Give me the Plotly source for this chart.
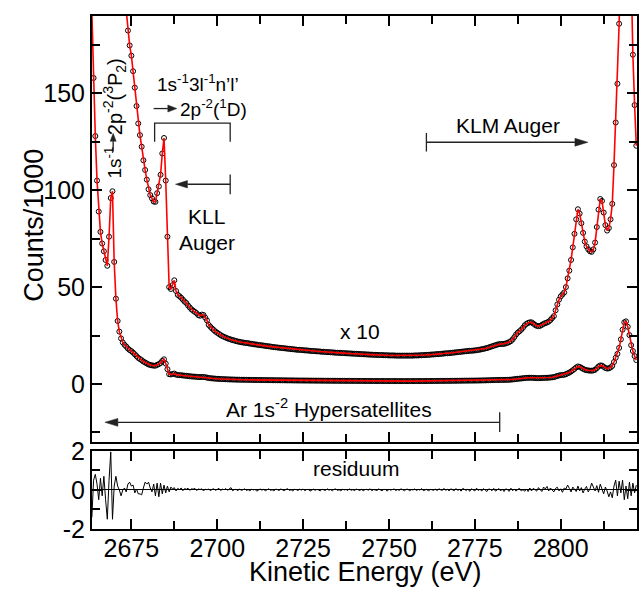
import numpy as np
import plotly.graph_objects as go

# ---------------- data ----------------
E_START = 2663.5   # eV, first channel
E_STEP = 0.5       # eV per channel

# measured counts / 1000 on the energy grid
counts_k = [
    192.0, 158.0, 128.0, 105.0, 89.0, 78.5, 72.5, 68.5, 64.0, 61.0,
    76.0, 96.0, 99.5, 63.0, 44.0, 32.5, 27.0, 23.5, 21.4, 20.2,
    19.3,
    18.25, 17.48, 16.95, 16.15, 15.30, 14.35, 13.45, 12.85, 12.25, 11.55,
    11.05, 10.55, 10.05, 9.75, 9.58, 9.42, 9.40, 9.85, 10.20, 10.80,
    11.90, 12.70, 10.50, 7.60, 5.00, 4.90, 5.10, 5.35, 4.80, 4.60,
    4.53, 4.45, 4.35, 4.25, 4.18, 4.05, 3.95, 3.85, 3.78, 3.72,
    3.65, 3.55, 3.52, 3.58, 3.56, 3.42, 3.28, 3.05, 2.95, 2.86,
    2.78, 2.70, 2.64, 2.58, 2.52, 2.47, 2.43, 2.39, 2.35, 2.32,
    2.29, 2.26, 2.24, 2.21, 2.19, 2.17, 2.15,
    2.14, 2.12, 2.11, 2.10, 2.08, 2.07, 2.05, 2.04, 2.03, 2.01,
    2.00, 1.99, 1.98, 1.96, 1.95, 1.94, 1.93, 1.91, 1.90, 1.89,
    1.88, 1.87, 1.86, 1.85, 1.84, 1.83, 1.82, 1.81, 1.80, 1.79,
    1.78, 1.77, 1.76, 1.76, 1.75, 1.74, 1.73, 1.73, 1.72, 1.71,
    1.70, 1.70, 1.69, 1.68, 1.68, 1.67, 1.66, 1.66, 1.65, 1.64,
    1.64, 1.63, 1.63, 1.62, 1.61, 1.61, 1.60, 1.60, 1.59, 1.59,
    1.58, 1.58, 1.57, 1.57, 1.56, 1.56, 1.55, 1.55, 1.54, 1.54,
    1.53, 1.53, 1.52, 1.52, 1.51, 1.51, 1.50, 1.50, 1.50, 1.49,
    1.49, 1.49, 1.48, 1.48, 1.48, 1.47, 1.47, 1.47, 1.47, 1.46,
    1.46, 1.46, 1.46, 1.46, 1.46, 1.46, 1.46, 1.46, 1.46, 1.46,
    1.47, 1.47, 1.47, 1.48, 1.48, 1.49, 1.49, 1.50, 1.50, 1.51,
    1.52, 1.52, 1.53, 1.54, 1.54, 1.55, 1.56, 1.57, 1.58, 1.58,
    1.59, 1.60, 1.61, 1.62, 1.63, 1.64, 1.65, 1.66, 1.67, 1.68,
    1.69, 1.70, 1.71, 1.71, 1.72, 1.73, 1.74, 1.76, 1.77, 1.79,
    1.81, 1.83, 1.85, 1.88, 1.91, 1.94, 1.97, 2.00, 2.03, 2.05,
    2.06, 2.06, 2.07, 2.09, 2.12, 2.16, 2.21,
    2.30, 2.42, 2.55, 2.65, 2.72, 2.80, 2.90, 3.02, 3.10, 3.15,
    3.18, 3.18, 3.12, 3.05, 3.00, 2.98, 3.00, 3.05, 3.10, 3.14,
    3.17, 3.22, 3.30, 3.40, 3.50, 3.80, 4.10, 4.35, 4.52, 4.62,
    4.72, 5.00, 5.45, 5.85, 6.40, 7.05, 7.75, 8.50, 9.02, 8.80,
    8.30, 7.80, 7.35, 7.10, 6.95, 6.85, 6.82, 6.95, 7.30, 8.10,
    9.00, 9.55, 9.45, 8.85, 8.20, 7.92, 8.05, 8.50, 9.30, 11.30,
    13.50, 15.50, 18.60, 23.00, 28.00, 31.80, 32.30, 29.50, 25.20, 20.00,
    17.00, 14.40, 12.30,
]

# fit residuum on the same grid
residuum = [
    -1.4, 0.5, 0.8, 0.3, -0.5, 0.6, -0.3, 0.7, -0.5, -1.5,
    0.5, 1.95, -1.5, 0.2, 0.7, 0.2, 0.0, -0.3, 0.0, 0.1,
    -0.1, 0.3, 0.4, 0.2, 0.25, -0.15, 0.05, -0.2, -0.2, -0.25,
    0.1, 0.4, 0.3, 0.4, 0.1, -0.1, 0.3, -0.3, 0.35, -0.35,
    0.35, -0.2, 0.25, -0.15, 0.2, -0.1, 0.15, 0.05, 0.12, -0.05,
    0.08, 0.02, 0.10, -0.04, 0.07, 0.03, 0.09, -0.02, 0.06, 0.04,
    0.08, -0.03, 0.05, 0.02, 0.06, -0.05, 0.04, 0.01, 0.05, -0.04,
    0.03, 0.06, -0.02, 0.02, 0.08, -0.03, 0.04, 0.01, 0.07, -0.02,
    0.03, 0.12, -0.04, 0.02,
    0.03, -0.04, 0.05, -0.02, 0.01, 0.06, -0.03, 0.02, -0.05, 0.04,
    0.00, 0.03, -0.06, 0.02, 0.05, -0.01, 0.03, -0.04, 0.02, 0.06,
    -0.02, 0.01, -0.05, 0.04, 0.02, -0.03, 0.05, 0.00, -0.04, 0.03,
    0.06, -0.02, 0.01, -0.05, 0.03, 0.02, -0.03, 0.04, -0.01, 0.05,
    -0.04, 0.02, 0.03, -0.06, 0.01, 0.04, -0.02, 0.03, 0.00, -0.05,
    0.04, 0.02, -0.03, 0.06, -0.01, 0.02, -0.04, 0.03, 0.05, -0.02,
    0.01, -0.05, 0.04, 0.00, 0.03, -0.03, 0.06, -0.02, 0.02, -0.04,
    0.05, 0.01, -0.03, 0.04, -0.05, 0.02, 0.03, -0.01, 0.06, -0.04,
    0.02, 0.00, -0.03, 0.05, 0.01, -0.04, 0.03, 0.02, -0.06, 0.04,
    -0.01, 0.03, 0.05, -0.03, 0.02, -0.02, 0.06, 0.01, -0.04, 0.03,
    0.04, -0.05, 0.02, 0.00, 0.05, -0.03, 0.03, -0.01, 0.07, -0.04,
    0.02, 0.04, -0.06, 0.03, 0.01, -0.02, 0.05, -0.04, 0.06, 0.00,
    -0.03, 0.08, -0.02, 0.04, -0.05, 0.06, 0.01, -0.04, 0.07, -0.02,
    0.03, -0.06, 0.08, 0.00, -0.03, 0.05, -0.07, 0.06, 0.02, -0.05,
    0.09, -0.03, 0.04, -0.06, 0.07, 0.01, -0.08, 0.05, 0.03, -0.04,
    0.08, -0.06, 0.02, 0.07, -0.05, 0.04, -0.08, 0.06, 0.01, -0.07,
    0.09, -0.04, 0.05, -0.06, 0.03, 0.08, -0.05, 0.02, -0.07,
    0.05, -0.08, 0.10, -0.05, 0.08, 0.02, -0.06, 0.12, 0.03, -0.08,
    0.15, 0.05, 0.18, -0.05, 0.10, 0.02, -0.10, 0.08, 0.14, -0.05,
    0.06, -0.12, 0.10, 0.05, 0.25, 0.08, -0.10, 0.15, 0.02, -0.08,
    0.20, -0.05, 0.12, -0.15, 0.05, 0.18, -0.10, 0.05, 0.35, 0.10,
    -0.05, 0.22, -0.12, 0.30, 0.05, -0.20, 0.15, -0.05, -0.35, -0.10,
    -0.40, 0.20, 0.50, -0.30, 0.45, -0.15, 0.50, -0.50, 0.20, -0.45,
    0.40, -0.30, 0.35, -0.15, 0.25,
]

MAGNIFICATION = 10
x_tick_values = [2675, 2700, 2725, 2750, 2775, 2800]
x_tick_labels = ["2675", "2700", "2725", "2750", "2775", "2800"]
y_tick_values = [0, 50, 100, 150]
res_tick_values = [-2, 0, 2]
res_tick_labels = ["-2", "0", "2"]

energy = E_START + E_STEP * np.arange(len(counts_k))
energy_res = E_START + E_STEP * np.arange(len(residuum))
counts = np.array(counts_k)
counts_mag = counts * MAGNIFICATION

# ---------------- layout constants ----------------
W, H = 641, 592
ML, MR, MT, MB = 92, 2, 10, 63
X_RANGE = [2663.54, 2822.2]
Y_RANGE = [-30, 190]
R_RANGE = [-2, 2]
MAIN_DOM = [0.1696, 1.0]
RES_DOM = [0.0, 0.1522]
FONT = "Liberation Sans, Arial, Helvetica, sans-serif"
TICK_FS = 25
TITLE_FS = 27
ANN_FS = 21
SMALL_FS = 19
ARROW_COLOR = "#222222"

PW, PH = W - ML - MR, H - MT - MB
SX = PW / (X_RANGE[1] - X_RANGE[0])                          # px per eV
SY = PH * (MAIN_DOM[1] - MAIN_DOM[0]) / (Y_RANGE[1] - Y_RANGE[0])  # px per unit

fig = go.Figure()
mk = dict(symbol="circle-open", size=5, color="black", line=dict(width=1, color="black"))
fig.add_trace(go.Scatter(x=energy, y=counts, mode="markers", marker=mk, xaxis="x", yaxis="y"))
fig.add_trace(go.Scatter(x=energy, y=counts_mag, mode="markers", marker=mk, xaxis="x", yaxis="y"))
fig.add_trace(go.Scatter(x=energy, y=counts, mode="lines", line=dict(color="red", width=1.6),
                         xaxis="x", yaxis="y"))
fig.add_trace(go.Scatter(x=energy, y=counts_mag, mode="lines", line=dict(color="red", width=1.6),
                         xaxis="x", yaxis="y"))
fig.add_trace(go.Scatter(x=energy_res, y=residuum, mode="lines", line=dict(color="black", width=1),
                         xaxis="x2", yaxis="y2"))

common = dict(showline=True, linewidth=2, linecolor="black", mirror="allticks",
              ticks="inside", ticklen=10, tickwidth=1.5, tickcolor="black",
              showgrid=False, zeroline=False,
              tickfont=dict(family=FONT, size=TICK_FS, color="black"))
minor_x = dict(ticks="inside", ticklen=8, tickwidth=1.5, tickcolor="black", dtick=12.5, showgrid=False)

fig.update_layout(
    width=W, height=H, margin=dict(l=ML, r=MR, t=MT, b=MB),
    paper_bgcolor="white", plot_bgcolor="white", showlegend=False,
    font=dict(family=FONT, color="black"),
    xaxis=dict(range=X_RANGE, domain=[0, 1], anchor="y", tickmode="linear", tick0=2675, dtick=25,
               showticklabels=False, minor=minor_x, **common),
    yaxis=dict(range=Y_RANGE, domain=MAIN_DOM, anchor="x", tickmode="array", tickvals=y_tick_values,
               minor=dict(ticks="inside", ticklen=8, tickwidth=1.5, tickcolor="black",
                          tickmode="linear", tick0=-25, dtick=25, showgrid=False),
               **common),
    xaxis2=dict(range=X_RANGE, domain=[0, 1], anchor="y2", tickmode="array", tickvals=x_tick_values,
                ticktext=x_tick_labels, minor=minor_x, ticklabelstandoff=-4, **common),
    yaxis2=dict(range=R_RANGE, domain=RES_DOM, anchor="x2", tickmode="array",
                tickvals=res_tick_values, ticktext=res_tick_labels,
                minor=dict(ticks="inside", ticklen=8, tickwidth=1.5, tickcolor="black",
                           tickmode="array", tickvals=[-1, 1], showgrid=False),
                **{k: v for k, v in common.items() if k != "zeroline"},
                zeroline=True, zerolinecolor="black", zerolinewidth=1),
)

# ---------------- annotations ----------------
def txt(x, y, s, size=ANN_FS, xref="x", yref="y", angle=0, xanchor="center"):
    return dict(x=x, y=y, xref=xref, yref=yref, text=s, showarrow=False, textangle=angle,
                xanchor=xanchor, yanchor="middle", font=dict(family=FONT, size=size, color="black"))

ann = [
    txt(2669.76, 114.5, "1s<sup>-1</sup>", SMALL_FS, angle=-90),
    txt(2670.19, 148.5, "2p<sup>-2</sup>(<sup>3</sup>P<sub>2</sub>)", SMALL_FS + 1, angle=-90),
    txt(2694.5, 155.6, "1s<sup>-1</sup>3l<sup>-1</sup>n’l’", SMALL_FS),
    txt(2688.5, 142.3, "2p<sup>-2</sup>(<sup>1</sup>D)", SMALL_FS, xanchor="left"),
    txt(2697.0, 86.2, "KLL"),
    txt(2697.1, 73.0, "Auger"),
    txt(2784.5, 133.6, "KLM Auger"),
    txt(2741.6, 26.9, "x 10"),
    txt(2732.4, -12.2, "Ar 1s<sup>-2</sup> Hypersatellites"),
    txt(2740.5, 1.1, "residuum", xref="x2", yref="y2"),
    txt(-0.1079, 0.5915, "Counts/1000", TITLE_FS, xref="paper", yref="paper", angle=-90),
    txt(0.5027, -0.0830, "Kinetic Energy (eV)", TITLE_FS, xref="paper", yref="paper"),
]
fig.update_layout(annotations=ann)

# ---------------- arrows, bars, bracket ----------------
def seg(x0, y0, x1, y1, w=1.3):
    return dict(type="line", xref="x", yref="y", x0=x0, y0=y0, x1=x1, y1=y1,
                line=dict(color=ARROW_COLOR, width=w))

def arrow(tail, tip, head_len=13, head_half=4.0):
    (x0, y0), (x1, y1) = tail, tip
    out = []
    if y0 == y1:
        d = 1 if x1 > x0 else -1
        base = x1 - d * head_len / SX
        hy = head_half / SY
        out.append(seg(x0, y0, base, y1))
        path = f"M{x1},{y1} L{base},{y1 + hy} L{base},{y1 - hy} Z"
    else:
        d = 1 if y1 > y0 else -1
        base = y1 - d * head_len / SY
        hx = head_half / SX
        out.append(seg(x0, y0, x1, base))
        path = f"M{x1},{y1} L{x1 - hx},{base} L{x1 + hx},{base} Z"
    out.append(dict(type="path", xref="x", yref="y", path=path, fillcolor=ARROW_COLOR,
                    line=dict(color=ARROW_COLOR, width=0.5)))
    return out

shapes = []
# rotated 1s-1 -> 2p-2(3P2) arrow
shapes += arrow((2669.70, 120.0), (2669.70, 129.4), head_len=8, head_half=3.0)
# -> 2p-2(1D)
shapes += arrow((2681.48, 142.2), (2688.23, 142.2), head_len=9, head_half=3.5)
# bracket
shapes.append(dict(type="path", xref="x", yref="y",
                   path="M2681.77,125.0 L2681.77,134.7 L2703.77,134.7 L2703.77,125.0",
                   line=dict(color=ARROW_COLOR, width=1.3)))
# KLL arrow with bar
shapes += arrow((2703.77, 103.1), (2687.85, 103.1), head_len=12, head_half=3.7)
shapes.append(seg(2703.77, 98.0, 2703.77, 108.2))
# KLM arrow with bar
shapes += arrow((2760.89, 124.8), (2807.90, 124.8), head_len=13, head_half=4.0)
shapes.append(seg(2760.89, 120.0, 2760.89, 129.6))
# hypersatellite arrow with bar
shapes += arrow((2782.23, -19.85), (2667.30, -19.85), head_len=13, head_half=4.0)
shapes.append(seg(2782.23, -14.7, 2782.23, -24.9))
fig.update_layout(shapes=shapes)

fig.write_html("out.html")
